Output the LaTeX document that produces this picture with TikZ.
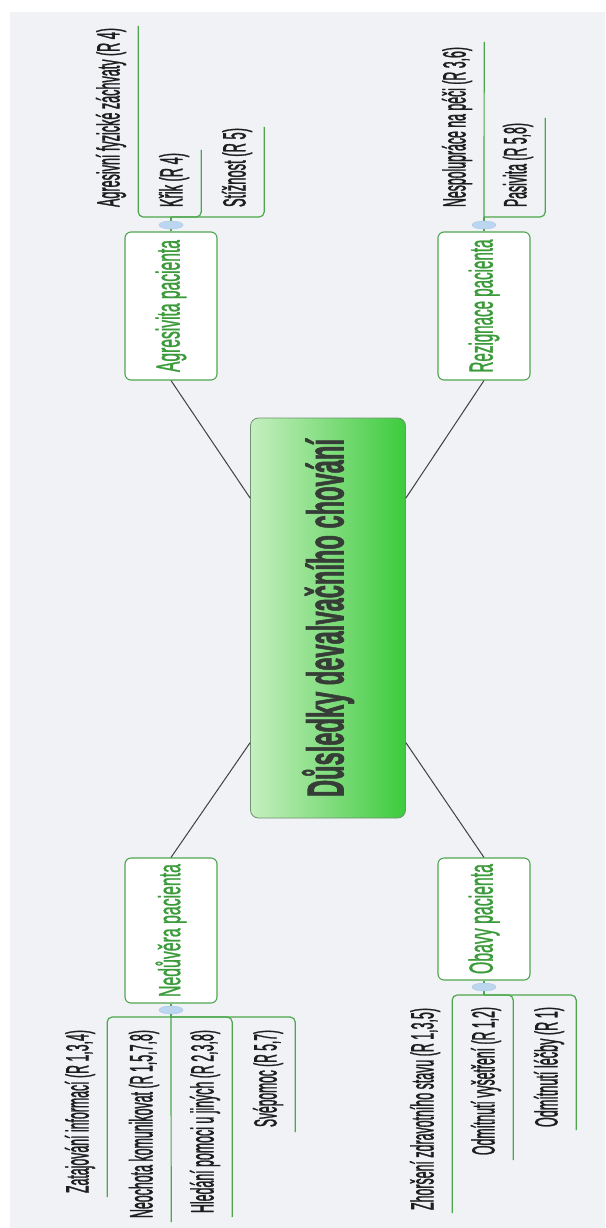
\documentclass[tikz,border=0pt]{standalone}
\usepackage{fontspec}
\setmainfont{Liberation Sans}
\newfontfamily\lblfont[FakeBold=2]{Liberation Sans}
\newfontfamily\mainfont[FakeBold=1.5]{Liberation Sans}
\newfontfamily\rootfont[BoldFeatures={FakeBold=2}]{Liberation Sans}
\usepackage{graphicx}
\usetikzlibrary{shapes.geometric}

\definecolor{bgc}{HTML}{F0F2F6}
\definecolor{rootL}{HTML}{C6EFC0}
\definecolor{rootR}{HTML}{3DCB3D}
\definecolor{rootB}{HTML}{6F926F}
\definecolor{rootT}{HTML}{363D36}
\definecolor{mainB}{HTML}{4FA64F}
\definecolor{mainT}{HTML}{3B9B3B}
\definecolor{subC}{HTML}{4DA84D}
\definecolor{connC}{HTML}{404040}
\definecolor{hubF}{HTML}{BCD6F0}
\definecolor{hubD}{HTML}{A6C6E6}
\definecolor{txtC}{HTML}{1E1E1E}

\newcommand{\sublbl}[2]{\resizebox*{#1pt}{30pt}{\lblfont\vphantom{(}#2}}
\newcommand{\mainlbl}[2]{\resizebox*{#1pt}{31pt}{\mainfont\vphantom{Ag}#2}}

\begin{document}
\begin{tikzpicture}[x=1pt,y=-1pt,
  rootbox/.style={draw=rootB, line width=0.8pt, rounded corners=8pt, left color=rootL, right color=rootR, minimum width=155pt, minimum height=400pt, inner sep=0pt},
  mainbox/.style={draw=mainB, line width=1.1pt, rounded corners=6pt, fill=white, minimum width=92pt, inner sep=0pt, text=mainT},
  sublabel/.style={rotate=90, inner sep=0pt, text=txtC},
  subline/.style={draw=subC, line width=1.2pt, rounded corners=5pt},
  connline/.style={draw=connC, line width=1pt},
  hub/.style={ellipse, fill=hubF, draw=hubD, line width=0.4pt, minimum width=24pt, minimum height=8pt, inner sep=0pt}]
\useasboundingbox (0,0) rectangle (605,1228);
\fill[white] (0,0) rectangle (605,1228);
\fill[bgc] (10,12) rectangle (605,1228);

% central node
\node[rootbox] (root) at (328,618) {\rotatebox{90}{\resizebox*{358pt}{52pt}{\rootfont\bfseries\color{rootT}\vphantom{Dy}Důsledky devalvačního chování}}};

% main branches
\node[mainbox, minimum height=148pt] (agr) at (171,306) {\rotatebox{90}{\mainlbl{132}{Agresivita pacienta}}};
\node[mainbox, minimum height=148pt] (rez) at (484,306) {\rotatebox{90}{\mainlbl{133}{Rezignace pacienta}}};
\node[mainbox, minimum height=145pt] (ned) at (171,930.5) {\rotatebox{90}{\mainlbl{133}{Nedůvěra pacienta}}};
\node[mainbox, minimum height=122pt] (obv) at (484,919) {\rotatebox{90}{\mainlbl{110}{Obavy pacienta}}};

\draw[connline] (root.123) -- (agr.south);
\draw[connline] (root.57) -- (rez.south);
\draw[connline] (root.238) -- (ned.north);
\draw[connline] (root.302) -- (obv.north);

% junctions
\coordinate (jA) at (171,217);
\coordinate (jR) at (484,217);
\coordinate (jN) at (171,1017);
\coordinate (jO) at (484,995);

% Agresivita children
\node[sublabel] (a1) at (111,117.5) {\sublbl{179}{Agresivní fyzické záchvaty (R 4)}};
\node[sublabel] (a2) at (174,180) {\sublbl{54}{Křik (R 4)}};
\node[sublabel] (a3) at (237,167.5) {\sublbl{79}{Stížnost (R 5)}};
\draw[subline] (agr.north) -- (jA);
\draw[subline] (jA) -| ([xshift=12pt,yshift=2pt]a1.south east);
\draw[subline] (jA) -| ([xshift=12pt,yshift=3pt]a2.south east);
\draw[subline] (jA) -| ([xshift=12pt,yshift=1pt]a3.south east);

% Rezignace children
\node[sublabel] (r1) at (457,127) {\sublbl{160}{Nespolupráce na péči (R 3,6)}};
\node[sublabel] (r2) at (518,165) {\sublbl{84}{Pasivita (R 5,8)}};
\draw[subline] (rez.north) -- (jR);
\draw[subline] (jR) -- ([xshift=12pt,yshift=5pt]r1.south east);
\draw[subline] (jR) -| ([xshift=12pt,yshift=5pt]r2.south east);

% Nedůvěra children
\node[sublabel] (n1) at (80,1111.5) {\sublbl{163}{Zatajování informací (R 1,3,4)}};
\node[sublabel] (n2) at (144,1124) {\sublbl{188}{Neochota komunikovat (R 1,5,7,8)}};
\node[sublabel] (n3) at (205,1121.5) {\sublbl{183}{Hledání pomoci u jiných (R 2,3,8)}};
\node[sublabel] (n4) at (268,1078.5) {\sublbl{97}{Svépomoc (R 5,7)}};
\draw[subline] (ned.south) -- (jN);
\draw[subline] (jN) -| ([xshift=12pt,yshift=-4pt]n1.south west);
\draw[subline] (jN) -- ([xshift=12pt,yshift=-4pt]n2.south west);
\draw[subline] (jN) -| ([xshift=12pt,yshift=-4pt]n3.south west);
\draw[subline] (jN) -| ([xshift=12pt,yshift=-5pt]n4.south west);

% Obavy children
\node[sublabel] (o1) at (425,1109) {\sublbl{202}{Zhoršení zdravotního stavu (R 1,3,5)}};
\node[sublabel] (o2) at (486,1081) {\sublbl{148}{Odmítnutí vyšetření (R 1,2)}};
\node[sublabel] (o3) at (549,1067) {\sublbl{120}{Odmítnutí léčby (R 1)}};
\draw[subline] (obv.south) -- (jO);
\draw[subline] (jO) -| ([xshift=12pt,yshift=-3pt]o1.south west);
\draw[subline] (jO) -| ([xshift=12pt,yshift=-5pt]o2.south west);
\draw[subline] (jO) -| ([xshift=12pt,yshift=-3pt]o3.south west);

% collapse hubs
\node[hub] (hA) at (171,225) {};
\node[hub] (hR) at (484,225) {};
\node[hub] (hN) at (171,1010) {};
\node[hub] (hO) at (484,987) {};
\end{tikzpicture}
\end{document}
